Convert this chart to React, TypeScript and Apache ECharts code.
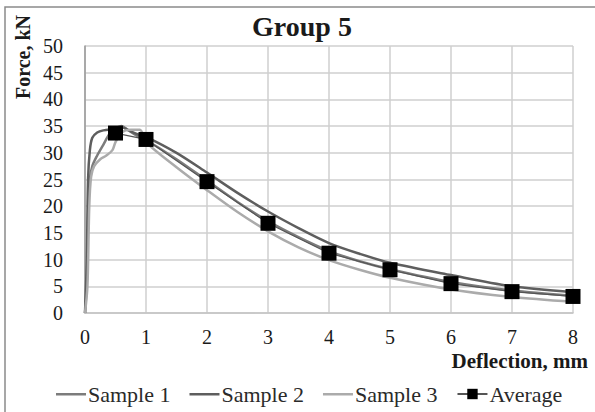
import React, { useEffect, useRef } from "react";
import * as echarts from "echarts";

const sample1: [number, number][] = [
  [0, 0], [0.03, 6], [0.05, 18], [0.08, 25], [0.12, 27.5], [0.2, 29.5], [0.3, 31.5], [0.4, 33.5],
  [0.5, 34.5], [0.6, 35], [0.7, 34.3], [0.85, 33.2], [1, 32.4], [1.5, 28.8], [2, 24.8],
  [2.5, 20.8], [3, 17.2], [3.5, 14.2], [4, 11.6], [4.5, 9.7], [5, 8.2], [6, 5.8], [7, 4.2], [8, 3.2],
];
const sample2: [number, number][] = [
  [0, 0], [0.03, 10], [0.05, 25], [0.08, 30.5], [0.12, 32.8], [0.2, 33.8], [0.3, 34.2],
  [0.5, 34.5], [0.6, 34.8], [0.75, 34], [0.9, 33.3], [1, 33], [1.5, 30], [2, 26.3],
  [2.5, 22.5], [3, 19], [3.5, 15.9], [4, 13.1], [4.5, 11.1], [5, 9.4], [6, 7.1], [7, 5.0], [8, 3.9],
];
const sample3: [number, number][] = [
  [0, 0], [0.04, 5], [0.07, 20], [0.1, 25.5], [0.15, 27.5], [0.25, 28.8], [0.35, 29.5],
  [0.45, 30.5], [0.5, 32], [0.6, 33.8], [0.75, 34.3], [0.9, 34.3], [1, 32], [1.5, 27.3],
  [2, 23], [2.5, 18.9], [3, 15.3], [3.5, 12.3], [4, 9.9], [4.5, 8.1], [5, 6.6], [6, 4.4], [7, 3.0], [8, 2.1],
];
const average: [number, number][] = [
  [0.5, 33.7], [1, 32.5], [2, 24.6], [3, 16.8], [4, 11.2], [5, 8.1], [6, 5.5], [7, 4.0], [8, 3.1],
];
const seriesNames = ["Sample 1", "Sample 2", "Sample 3", "Average"];
const xTicks = { min: 0, max: 8, step: 1 };
const yTicks = { min: 0, max: 50, step: 5 };

const FONT = "Liberation Serif";
const TXT = "#1a1a1a";
// legend line icon: a thin bar in the middle, with tiny corner specks to keep the box size
const LINE_ICON =
  "path://M0,0L0.05,0L0,0.05Z M0,5.6L30,5.6L30,8L0,8Z M30,13L29.95,13L30,12.95Z";

export default function App() {
  const ref = useRef<HTMLDivElement>(null);
  useEffect(() => {
    document.body.style.margin = "0";
    if (!ref.current) return;
    const chart = echarts.init(ref.current, undefined, { renderer: "svg" });
    const richLabel = { t: { fontFamily: FONT, fontSize: 20, color: TXT } };
    chart.setOption({
      animation: false,
      backgroundColor: "#ffffff",
      title: {
        text: "Group 5",
        left: 297,
        top: 7,
        textAlign: "center",
        textStyle: { fontFamily: FONT, fontSize: 28, fontWeight: "bold", color: TXT },
      },
      graphic: [
        {
          type: "polyline",
          shape: { points: [[5, 412], [5, 7], [595, 7]] },
          style: { stroke: "#8a8a8a", lineWidth: 1.5, fill: "none" },
          silent: true,
        },
        {
          type: "text",
          x: 23,
          y: 57,
          rotation: Math.PI / 2,
          style: {
            text: "Force, kN",
            fontFamily: FONT,
            fontSize: 20,
            fontWeight: "bold",
            fill: TXT,
            align: "center",
            verticalAlign: "middle",
          },
        },
        {
          type: "text",
          x: 588,
          y: 361,
          style: {
            text: "Deflection, mm",
            fontFamily: FONT,
            fontSize: 21,
            fontWeight: "bold",
            fill: TXT,
            align: "right",
            verticalAlign: "middle",
          },
        },
      ],
      grid: { left: 85, right: 22, top: 46, bottom: 99, containLabel: false },
      legend: {
        data: [
          { name: seriesNames[0], icon: LINE_ICON },
          { name: seriesNames[1], icon: LINE_ICON },
          { name: seriesNames[2], icon: LINE_ICON },
          { name: seriesNames[3] },
        ],
        bottom: 2,
        left: 51,
        itemWidth: 30,
        itemHeight: 13,
        itemGap: 19,
        formatter: "{t|{name}}",
        textStyle: {
          fontFamily: FONT,
          fontSize: 22,
          color: "#2a2a2a",
          padding: [0, 0, 0, -3],
          rich: { t: { fontFamily: FONT, fontSize: 22, color: "#2a2a2a" } },
        },
      },
      xAxis: {
        type: "value",
        min: xTicks.min,
        max: xTicks.max,
        interval: xTicks.step,
        axisLine: { show: true, lineStyle: { color: "#c4c4c4", width: 1.5 } },
        axisTick: { show: false },
        splitLine: { show: true, lineStyle: { color: "#cfcfcf", width: 1.5 } },
        axisLabel: {
          fontFamily: FONT, fontSize: 20, color: TXT, margin: 14,
          formatter: "{t|{value}}", rich: richLabel,
        },
      },
      yAxis: {
        type: "value",
        min: yTicks.min,
        max: yTicks.max,
        interval: yTicks.step,
        axisLine: { show: true, lineStyle: { color: "#999", width: 1.5 } },
        axisTick: { show: false },
        splitLine: { show: true, lineStyle: { color: "#cfcfcf", width: 1.5 } },
        axisLabel: {
          fontFamily: FONT, fontSize: 20, color: TXT, margin: 22,
          formatter: "{t|{value}}", rich: richLabel,
        },
      },
      series: [
        {
          name: seriesNames[0], type: "line", data: sample1, smooth: 0.3, symbol: "none",
          lineStyle: { color: "#7c7c7c", width: 2.5 }, itemStyle: { color: "#7c7c7c" },
        },
        {
          name: seriesNames[1], type: "line", data: sample2, smooth: 0.3, symbol: "none",
          lineStyle: { color: "#5e5e5e", width: 2.5 }, itemStyle: { color: "#5e5e5e" },
        },
        {
          name: seriesNames[2], type: "line", data: sample3, smooth: 0.3, symbol: "none",
          lineStyle: { color: "#ababab", width: 2.5 }, itemStyle: { color: "#ababab" },
        },
        {
          name: seriesNames[3], type: "line", data: average, symbol: "rect", symbolSize: 15,
          lineStyle: { color: "#555", width: 1.2 }, itemStyle: { color: "#000" }, z: 5,
        },
      ],
    });
    return () => chart.dispose();
  }, []);
  return <div ref={ref} style={{ width: 595, height: 412 }} />;
}
